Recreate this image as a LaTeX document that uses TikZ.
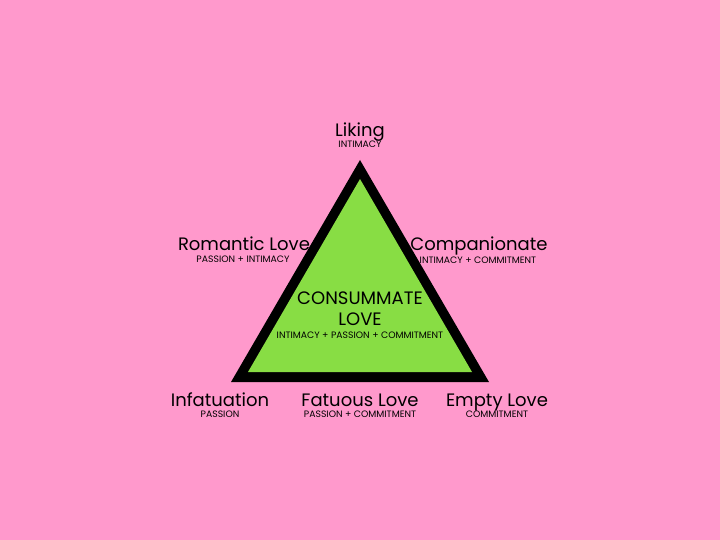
\documentclass[tikz,border=0pt]{standalone}
\usepackage{fontspec}
\setmainfont{Poppins}
\definecolor{bgpink}{HTML}{FF99CC}
\definecolor{lovegreen}{HTML}{88DD44}
\begin{document}
\begin{tikzpicture}[x=1pt,y=-1pt,
  title/.style={font=\fontsize{18}{18}\selectfont, inner sep=0pt, anchor=base},
  sub/.style={font=\fontsize{9.3}{9.3}\selectfont, inner sep=0pt, anchor=base}]
\fill[bgpink] (0,0) rectangle (720,540);
\useasboundingbox (0,0) rectangle (720,540);
% triangle
\coordinate (oa) at (360,160);
\coordinate (ol) at (231,382);
\coordinate (or) at (489,382);
\coordinate (ia) at (360,179);
\coordinate (il) at (248,372);
\coordinate (ir) at (472,372);
\fill[black] (oa) -- (ol) -- (or) -- cycle;
\fill[lovegreen] (ia) -- (il) -- (ir) -- cycle;
% labels
\node[title] (liking) at (360,137) {Liking};
\node[sub] (likingS) at (360,148) {INTIMACY};
\node[title] (rom) at (244,251) {Romantic Love};
\node[sub] (romS) at (243,262) {PASSION + INTIMACY};
\node[title] (comp) at (479,251) {Companionate};
\node[sub] (compS) at (478,263) {INTIMACY + COMMITMENT};
\node[title] (cons) at (360,304) {CONSUMMATE};
\node[title] (consL) at (360,325) {LOVE};
\node[sub] (consS) at (360,338) {INTIMACY + PASSION + COMMITMENT};
\node[title] (inf) at (220,406) {Infatuation};
\node[sub] (infS) at (220,417) {PASSION};
\node[title] (fat) at (360,406) {Fatuous Love};
\node[sub] (fatS) at (360,417) {PASSION + COMMITMENT};
\node[title] (emp) at (497,406) {Empty Love};
\node[sub] (empS) at (497,417) {COMMITMENT};
\end{tikzpicture}
\end{document}
